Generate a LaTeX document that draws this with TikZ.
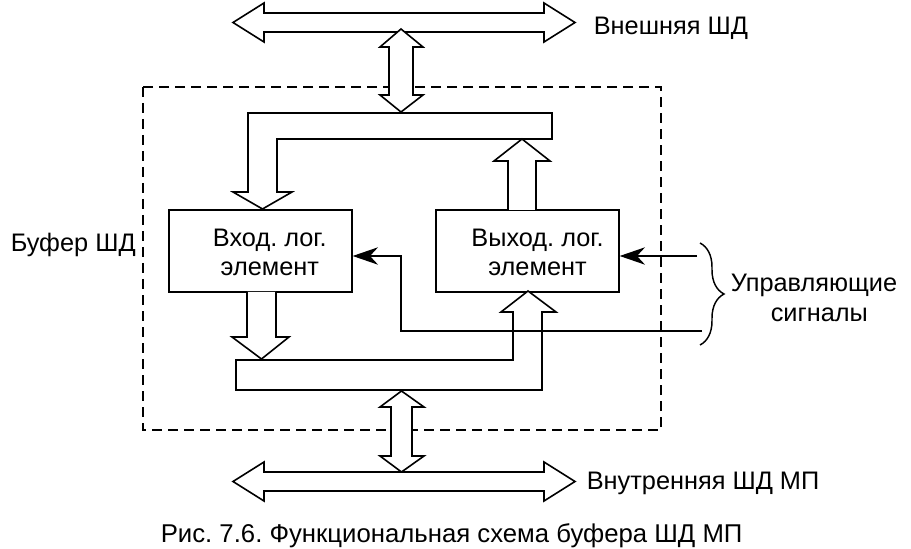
\documentclass[tikz,border=0pt]{standalone}
\usepackage{fontspec}
\setmainfont{Liberation Sans}
\usetikzlibrary{arrows.meta,decorations.pathreplacing}
\frenchspacing

\begin{document}
\begin{tikzpicture}[x=0.75pt,y=-0.75pt,line width=1.2pt,
    fat/.style={draw,fill=white,line join=miter},
    block/.style={draw,fill=white,minimum width=137pt,minimum height=61.5pt,inner sep=0pt},
    lbl/.style={font=\fontsize{19}{21.5}\selectfont,inner sep=0pt},
    ctrl/.style={-{Stealth[length=19pt,width=13pt,inset=6pt]}}]

      \useasboundingbox (0,0) rectangle (911,549);

      % buffer frame
      \draw[line width=2.2pt,dash pattern=on 7.5pt off 4.5pt] (143,87) rectangle (661,430);

      % external data bus
      \draw[fat] (233,22.5) -- (264,3) -- (264,13) -- (544,13) -- (544,3) -- (575,22.5)
                 -- (544,42) -- (544,32) -- (264,32) -- (264,42) -- cycle;
      \draw[fat] (401,29) -- (423,47) -- (413,47) -- (413,95) -- (423,95) -- (401,112)
                 -- (380,95) -- (389,95) -- (389,47) -- (380,47) -- cycle;

      % upper bus inside the buffer
      \draw[fat] (248,192) -- (248,113) -- (552,113) -- (552,139) -- (277,139) -- (277,192)
                 -- (292,192) -- (262.5,209) -- (233,192) -- cycle;

      % blocks
      \node[block] (in)  at (260.5,251) {};
      \node[block] (out) at (527.5,251) {};
      \node[lbl,align=center] (intext)  at ([xshift=7pt,yshift=-1pt]in.center)
            {Вход. лог.\\ элемент};
      \node[lbl,align=center] (outtext) at ([xshift=7.5pt,yshift=-1pt]out.center)
            {Выход. лог.\\ элемент};

      \draw[fat] (508,210) -- (508,161) -- (494,161) -- (522,139) -- (550,161) -- (536,161) -- (536,210);

      % lower bus inside the buffer
      \draw[fat] (247,292) -- (247,337) -- (232,337) -- (261.5,359) -- (289,337) -- (276,337) -- (276,292);
      \draw[fat] (236,360) -- (513,360) -- (513,312) -- (501,312) -- (528,291) -- (556,312)
                 -- (542,312) -- (542,390) -- (236,390) -- cycle;

      % internal data bus
      \draw[fat] (401.5,391) -- (424,407) -- (412,407) -- (412,456) -- (424,456) -- (401.5,472)
                 -- (380,456) -- (391,456) -- (391,407) -- (380,407) -- cycle;
      \draw[fat] (233,481.5) -- (264,462) -- (264,472) -- (544,472) -- (544,462) -- (575,481.5)
                 -- (544,501) -- (544,491) -- (264,491) -- (264,501) -- cycle;

      % control signals
      \coordinate (c1) at (697,256);
      \coordinate (c2) at (702,331);
      \coordinate (bend) at (401,331);
      \draw[ctrl] (c1) -- (out.east |- c1);
      \draw[ctrl] (c2) -- (bend) -- (bend |- c1) -- (in.east |- c1);
      \draw[line width=1.1pt,decorate,decoration={brace,amplitude=18pt}] (700,243) -- (700,345);

      % labels
      \node[lbl,anchor=base west] (ext) at (593,35) {Внешняя ШД};
      \node[lbl,anchor=base west] (buf) at (10,252) {Буфер ШД};
      \node[lbl,align=center,font=\fontsize{19}{22}\selectfont] (sig) at (814,298) {Управляющие\\ \hspace*{8pt}сигналы};
      \node[lbl,anchor=base west] (int) at (586,489) {Внутренняя ШД МП};
      \node[lbl,anchor=base west,font=\fontsize{19.3}{22}\selectfont] (cap) at (160,542)
            {Рис. 7.6. Функциональная схема буфера ШД МП};

    \end{tikzpicture}
\end{document}
